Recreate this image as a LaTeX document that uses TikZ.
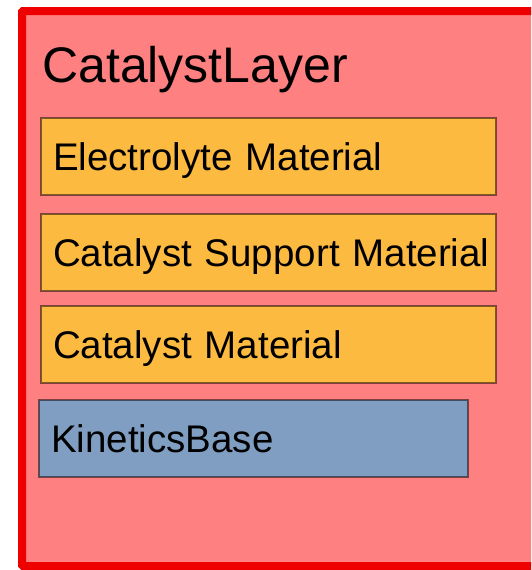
\documentclass[tikz,border=0pt]{standalone}
\usepackage{fontspec}
\setmainfont{Liberation Sans}
\usetikzlibrary{positioning}
\definecolor{layerfill}{RGB}{255,128,128}
\definecolor{layerline}{RGB}{238,0,0}
\definecolor{matfill}{RGB}{253,186,64}
\definecolor{kinfill}{RGB}{127,158,194}
\tikzset{
    % Container
    layer/.style={draw=layerline,fill=layerfill,line width=8pt,rounded corners=1pt},
    title/.style={anchor=base west,inner sep=0pt,font=\fontsize{50}{56}\selectfont},
    %
    % Boxes inside the layer
    part/.style={draw=black,draw opacity=.5,line width=2pt,outer sep=0pt,
        anchor=north west,align=left,inner xsep=12pt,inner ysep=0pt,
        minimum height=77pt,text height=29pt,text depth=1pt,
        font=\fontsize{38.5}{42}\selectfont},
    material/.style={part,fill=matfill,text width=431pt},
    kinetics/.style={part,fill=kinfill,text width=405pt}
}
\begin{document}
\begin{tikzpicture}[x=1pt,y=-1pt]
    \useasboundingbox (0,0) rectangle (531,570);
    \clip (0,0) rectangle (531,570);
    \draw[layer] (22,11) rectangle (545,566);
    \node[title] (name) at (42,82) {CatalystLayer};
    \node[material] (elec) at (41,118) {Electrolyte Material};
    \node[material,below=19pt of elec.south west,anchor=north west] (supp) {\mbox{Catalyst Support Material}};
    \node[material,below=15pt of supp.south west,anchor=north west] (cat) {Catalyst Material};
    \node[kinetics,below=17pt of cat.south west,anchor=north west,xshift=-2pt] (kin) {KineticsBase};
\end{tikzpicture}
\end{document}
